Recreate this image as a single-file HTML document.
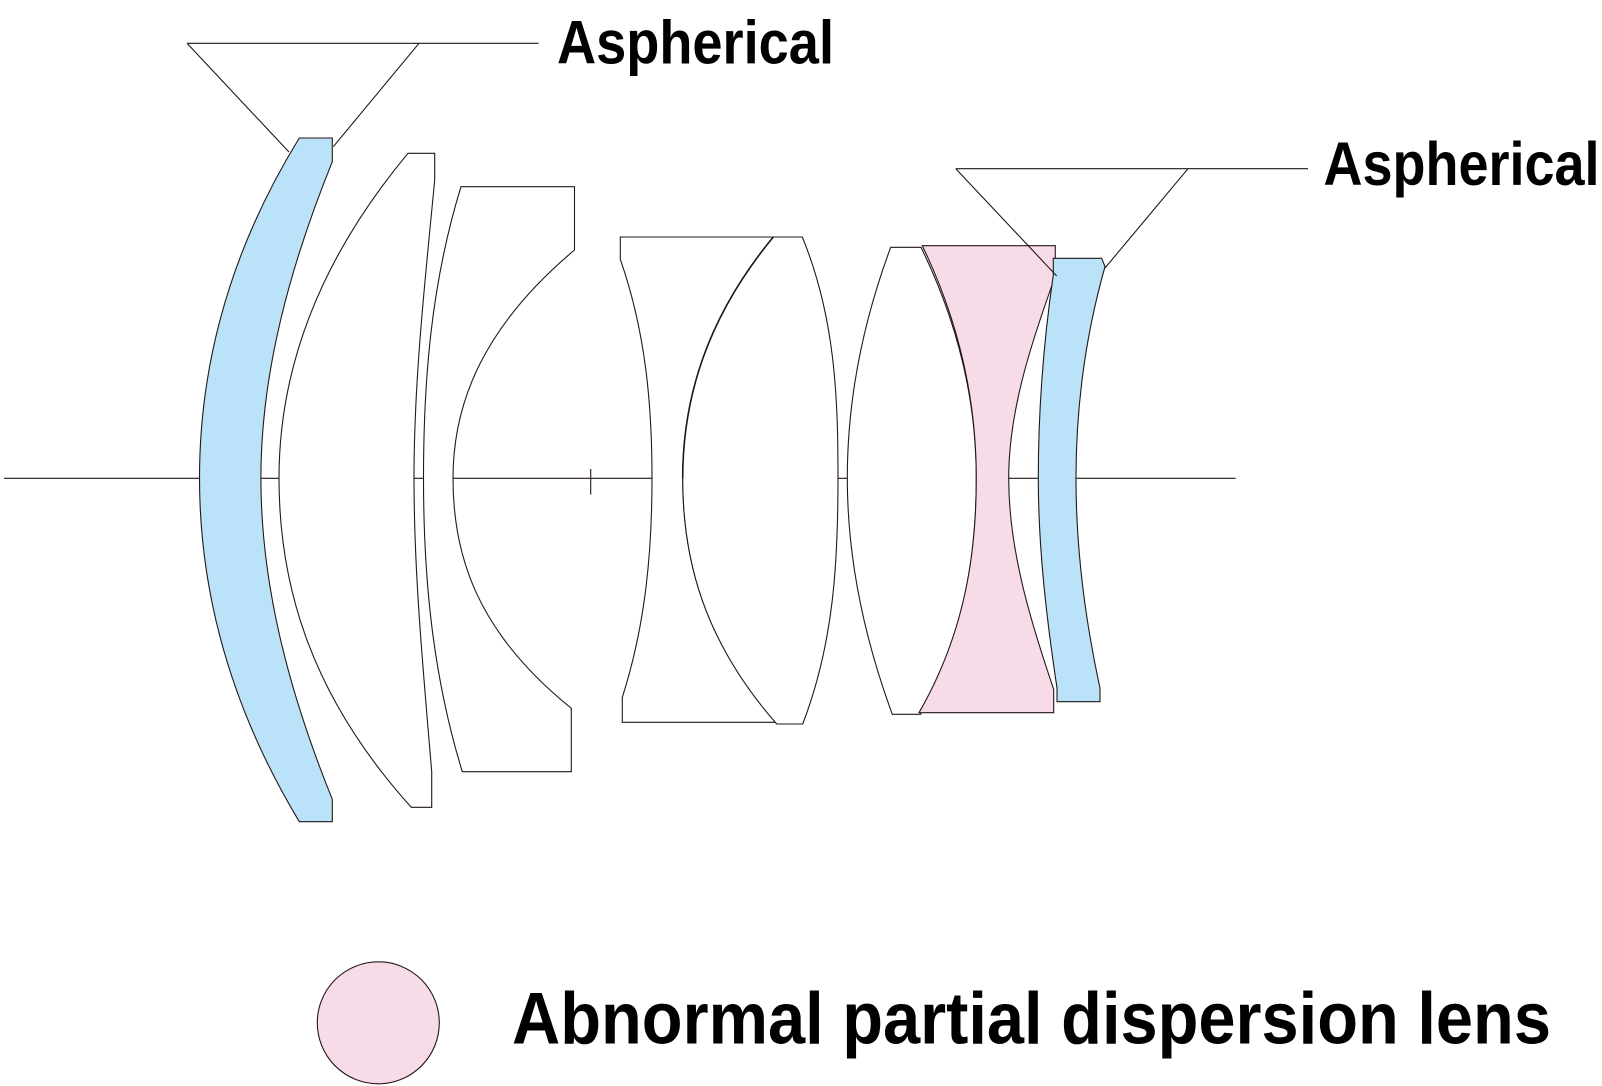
<!DOCTYPE html>
<html><head><meta charset="utf-8"><style>
html,body{margin:0;padding:0;background:#fff}
svg{display:block}
text{font-family:"Liberation Sans",sans-serif;font-weight:bold;fill:#000}
</style></head><body>
<svg width="1602" height="1086" viewBox="0 0 1602 1086" xmlns="http://www.w3.org/2000/svg">
<g fill="#fff" stroke="#231815" stroke-width="1.1" stroke-linejoin="miter">
<path d="M4 478.3H1235.6M590.7 469V494.6" fill="none"/>
<path d="M187 43.3H538.6M187 43.3L289 152M419 43.3L333.3 146.7" fill="none"/>
<!-- lens 1 -->
<path d="M299.3 138H332.3V161.7C289.7 267.2 260.9 372.8 260.9 478.3C260.9 585.3 289 692.3 332.3 799.3V821.7H299.3C230.5 707.2 199.5 592.8 199.5 478.3C199.5 364.9 229.5 251.4 299.3 138Z" fill="#bae2f8"/>
<!-- lens 2 -->
<path d="M408 153.3H434.7V180C425.2 279.4 414 378.9 414 478.3C414 576.1 423.6 673.9 431.7 771.7V807.3H411.3C312.3 697.6 279 588 279 478.3C279 370 317.7 261.6 408 153.3Z"/>
<!-- lens 3 -->
<path d="M461 186.7H574.5V250C483.9 326.1 453 402.2 453 478.3C453 555 476.3 631.6 571.3 708.3V771.7H462.3C432.3 673.9 423.5 576.1 423.5 478.3C423.5 381.1 431 283.9 461 186.7Z"/>
<!-- doublet -->
<path d="M620.3 237H773.3C706.9 317.4 682.7 397.9 682.7 478.3C682.7 559.6 703.7 640.7 776.7 722.3H622.3V697.3C645.7 624.3 652 551.3 652 478.3C652 405.3 645.8 332.3 620.3 259.3Z"/>
<path d="M773.3 237H802.3C835.3 317.4 838 397.9 838 478.3C838 560.2 834.2 642.1 802.7 724H776.7C703.7 640.7 682.7 559.6 682.7 478.3C682.7 397.9 706.9 317.4 773.3 237Z"/>
<path d="M773.3 237C706.9 317.4 682.7 397.9 682.7 478.3" fill="none" stroke-width="1.6"/>
<!-- lens 5 -->
<path d="M890.7 247.3H921C958.5 324 976.3 401 976.3 478.3C976.3 556.4 963.9 634.6 920.7 714.3H892.3C863.4 635.6 847.3 557 847.3 478.3C847.3 401.3 862.1 324.3 890.7 247.3Z"/>
<!-- pink -->
<path d="M922.3 245.7H1055.3V276C1031 343.4 1008.7 410.9 1008.7 478.3C1008.7 548.6 1029.7 619 1053.7 689.3V712.7H919C963.9 634.6 976.3 556.4 976.3 478.3C976.3 400.8 959.7 323.2 922.3 245.7Z" fill="#f8dbe9"/>
<!-- blue 2 -->
<path d="M1053.3 258.3H1101.7L1105 266.7C1085 337.2 1076 407.8 1076 478.3C1076 548.3 1084.8 618.3 1100 688.3V701.7H1057V688C1046.5 618.1 1038.3 548.2 1038.3 478.3C1038.3 410.5 1043.4 342.8 1053.3 275Z" fill="#bae2f8"/>
<path d="M955.8 168.7H1308M955.8 168.7L1056.7 276M1188 168.7L1105 268" fill="none"/>
<circle cx="378.3" cy="1022.8" r="61" fill="#f8dbe9"/>
<g stroke="none">
<text x="557" y="63.4" font-size="61" textLength="277" lengthAdjust="spacingAndGlyphs">Aspherical</text>
<text x="1323.5" y="185" font-size="61" textLength="276" lengthAdjust="spacingAndGlyphs">Aspherical</text>
<text x="512" y="1043.5" font-size="73.6" textLength="1039" lengthAdjust="spacingAndGlyphs">Abnormal partial dispersion lens</text>
</g>
</g>
</svg>
</body></html>
